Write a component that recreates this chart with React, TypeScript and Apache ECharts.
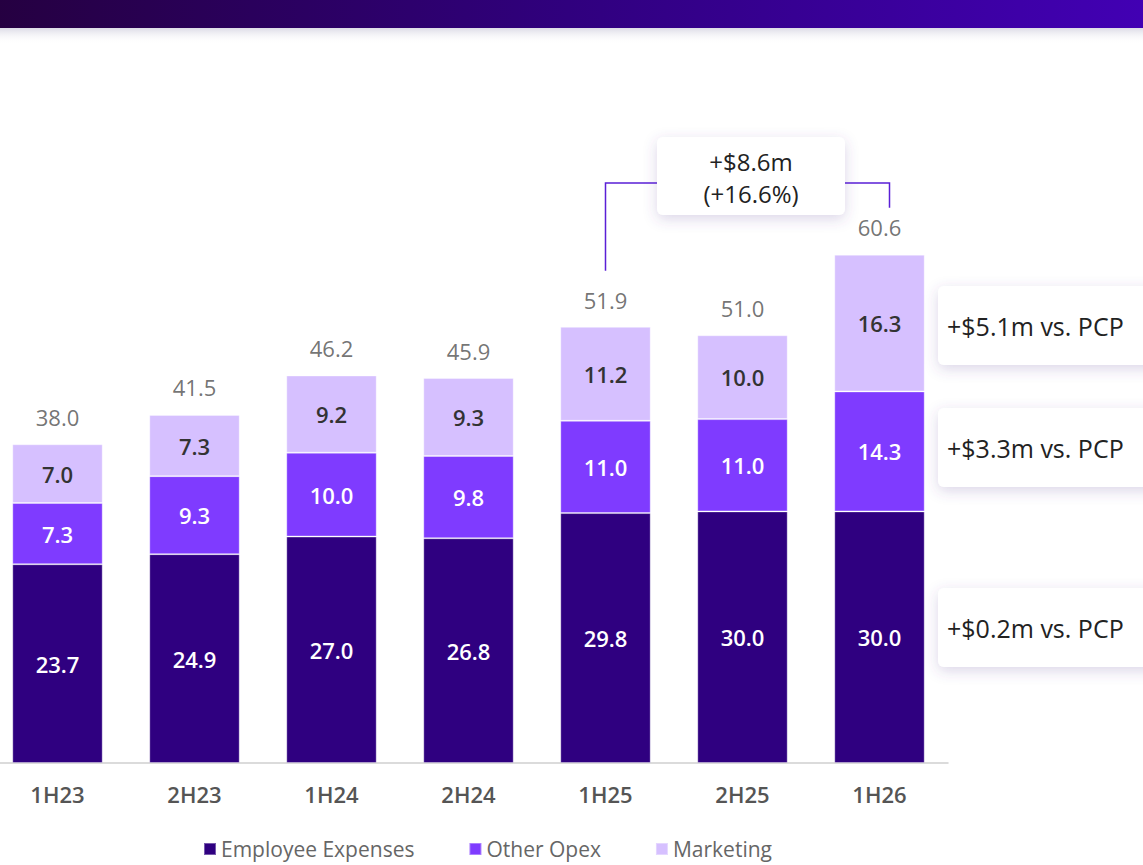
import React, { useEffect, useRef } from "react";
import * as echarts from "echarts";

const categories = ["1H23", "2H23", "1H24", "2H24", "1H25", "2H25", "1H26"];
const employeeExpenses = [23.7, 24.9, 27.0, 26.8, 29.8, 30.0, 30.0];
const otherOpex = [7.3, 9.3, 10.0, 9.8, 11.0, 11.0, 14.3];
const marketing = [7.0, 7.3, 9.2, 9.3, 11.2, 10.0, 16.3];
const totals = [38.0, 41.5, 46.2, 45.9, 51.9, 51.0, 60.6];
const seriesNames = ["Employee Expenses", "Other Opex", "Marketing"];
const pcpNotes = ["+$5.1m vs. PCP", "+$3.3m vs. PCP", "+$0.2m vs. PCP"];
const growthText = ["+$8.6m", "(+16.6%)"];

const FONT = "'Open Sans', 'Noto Sans', sans-serif";
const C_EMP = "#2f0080";
const C_OPEX = "#7f3bff";
const C_MKT = "#d6c0ff";
const OFF = 11; // chart canvas starts 11px left of the page edge

export default function App() {
  const ref = useRef<HTMLDivElement>(null);
  useEffect(() => {
    if (!ref.current) return;
    const chart = echarts.init(ref.current, null, { renderer: "svg" });
    const innerLabel = (color: string) => ({
      show: true,
      position: "inside",
      color,
      fontSize: 22,
      fontWeight: 600,
      fontFamily: FONT,
      formatter: (p: any) => Number(p.value).toFixed(1),
    });
    const option: any = {
      animation: false,
      backgroundColor: "#ffffff",
      textStyle: { fontFamily: FONT },
      grid: { left: 0, right: 195, top: 92, bottom: 102, containLabel: false },
      xAxis: {
        type: "category",
        data: categories,
        axisLine: { lineStyle: { color: "#cfcfcf", width: 1.5 } },
        axisTick: { show: false },
        axisLabel: {
          color: "#555555",
          fontSize: 22,
          fontWeight: 600,
          fontFamily: FONT,
          margin: 20,
        },
      },
      yAxis: {
        type: "value",
        min: 0,
        max: 80,
        show: false,
        splitLine: { show: false },
      },
      legend: {
        data: seriesNames,
        left: 203 + OFF,
        top: 838,
        padding: 0,
        icon: "rect",
        itemWidth: 12,
        itemHeight: 12,
        itemGap: 54,
        textStyle: { fontSize: 21, lineHeight: 22, color: "#666666", fontFamily: FONT },
      },
      series: [
        {
          name: seriesNames[0],
          type: "bar",
          stack: "opex",
          barCategoryGap: "34%",
          data: employeeExpenses,
          itemStyle: { color: C_EMP, borderColor: "rgba(255,255,255,0.35)", borderWidth: 1 },
          label: innerLabel("#ffffff"),
        },
        {
          name: seriesNames[1],
          type: "bar",
          stack: "opex",
          data: otherOpex,
          itemStyle: { color: C_OPEX, borderColor: "rgba(255,255,255,0.35)", borderWidth: 1 },
          label: innerLabel("#ffffff"),
        },
        {
          name: seriesNames[2],
          type: "bar",
          stack: "opex",
          data: marketing,
          itemStyle: { color: C_MKT, borderColor: "rgba(255,255,255,0.35)", borderWidth: 1 },
          label: innerLabel("#333333"),
        },
        {
          name: "Total",
          type: "scatter",
          data: totals,
          symbolSize: 1,
          itemStyle: { color: "rgba(0,0,0,0)" },
          label: {
            show: true,
            position: "top",
            distance: 16,
            color: "#505050",
            fontSize: 22,
            fontFamily: FONT,
            formatter: (p: any) => Number(p.value).toFixed(1),
          },
          z: 5,
        },
      ],
    };
    chart.setOption(option);

    const i1 = 4;
    const i2 = 6;
    const x1 = chart.convertToPixel({ xAxisIndex: 0 }, i1) as number;
    const x2 = chart.convertToPixel({ xAxisIndex: 0 }, i2) as number;
    const yTop1 = chart.convertToPixel({ yAxisIndex: 0 }, totals[i1]) as number;
    const yTop2 = chart.convertToPixel({ yAxisIndex: 0 }, totals[i2]) as number;
    const bracketY = 183;
    const lineColor = "#5a1fd6";
    const boxStyle = {
      fill: "#ffffff",
      shadowBlur: 14,
      shadowColor: "rgba(90,60,150,0.22)",
      shadowOffsetY: 4,
    };

    const pcpBoxes = [
      { y: 286, h: 79 },
      { y: 408, h: 79 },
      { y: 588, h: 79 },
    ];

    const graphic: any[] = [
      {
        type: "rect",
        left: 0,
        top: 28,
        shape: { width: 1160, height: 16 },
        style: {
          fill: new echarts.graphic.LinearGradient(0, 0, 0, 1, [
            { offset: 0, color: "#dcdbe6" },
            { offset: 1, color: "rgba(255,255,255,0)" },
          ]),
        },
        silent: true,
      },
      {
        type: "rect",
        left: 0,
        top: 0,
        shape: { width: 1160, height: 28 },
        style: {
          fill: new echarts.graphic.LinearGradient(0, 0, 1, 0, [
            { offset: 0, color: "#250040" },
            { offset: 0.5, color: "#30007e" },
            { offset: 1, color: "#4200b4" },
          ]),
        },
        silent: true,
      },
      {
        type: "polyline",
        shape: {
          points: [
            [x1, yTop1 - 57],
            [x1, bracketY],
            [657 + OFF, bracketY],
          ],
        },
        style: { stroke: lineColor, lineWidth: 1.5, fill: null },
        silent: true,
      },
      {
        type: "polyline",
        shape: {
          points: [
            [845 + OFF, bracketY],
            [x2 + 10, bracketY],
            [x2 + 10, yTop2 - 47],
          ],
        },
        style: { stroke: lineColor, lineWidth: 1.5, fill: null },
        silent: true,
      },
      {
        type: "rect",
        shape: { x: 657 + OFF, y: 137, width: 188, height: 78, r: 6 },
        style: boxStyle,
        silent: true,
      },
      {
        type: "text",
        x: 751 + OFF,
        y: 177,
        style: {
          text: growthText.join("\n"),
          fontSize: 24,
          lineHeight: 32,
          fontFamily: FONT,
          fill: "#222222",
          align: "center",
          verticalAlign: "middle",
        },
        silent: true,
      },
    ];
    pcpBoxes.forEach((b, k) => {
      graphic.push({
        type: "rect",
        shape: { x: 938 + OFF, y: b.y, width: 230, height: b.h, r: 6 },
        style: boxStyle,
        silent: true,
      });
      graphic.push({
        type: "text",
        x: 947 + OFF,
        y: b.y + b.h / 2,
        style: {
          text: pcpNotes[k],
          fontSize: 25,
          fontFamily: FONT,
          fill: "#222222",
          align: "left",
          verticalAlign: "middle",
        },
        silent: true,
      });
    });
    chart.setOption({ graphic });

    return () => chart.dispose();
  }, []);

  return (
    <div
      style={{
        position: "fixed",
        left: 0,
        top: 0,
        width: 1143,
        height: 865,
        overflow: "hidden",
        background: "#ffffff",
      }}
    >
      <div
        ref={ref}
        style={{ position: "absolute", left: -OFF, top: 0, width: 1143 + OFF, height: 865 }}
      />
    </div>
  );
}
